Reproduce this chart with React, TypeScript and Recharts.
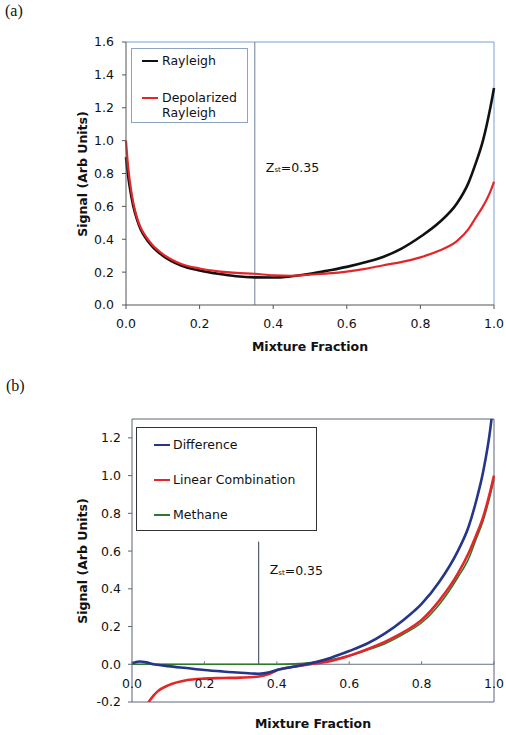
import { LineChart, Line, XAxis, YAxis, ReferenceLine } from "recharts"

// panel (a)
const fractionA = [0, 0.005, 0.01, 0.02, 0.03, 0.04, 0.05, 0.07, 0.1, 0.15, 0.2, 0.25, 0.3, 0.35, 0.4, 0.45, 0.5, 0.55, 0.6, 0.65, 0.7, 0.75, 0.8, 0.85, 0.9, 0.93, 0.95, 0.97, 0.99, 1.0]
const rayleigh = [0.9, 0.8, 0.72, 0.6, 0.52, 0.46, 0.42, 0.36, 0.3, 0.24, 0.21, 0.19, 0.175, 0.168, 0.167, 0.175, 0.19, 0.21, 0.232, 0.26, 0.294, 0.345, 0.415, 0.5, 0.62, 0.74, 0.86, 1.0, 1.2, 1.32]
const depolarized = [1.0, 0.86, 0.76, 0.62, 0.53, 0.47, 0.43, 0.37, 0.31, 0.25, 0.222, 0.205, 0.195, 0.19, 0.18, 0.178, 0.185, 0.192, 0.203, 0.22, 0.242, 0.262, 0.29, 0.33, 0.39, 0.46, 0.53, 0.6, 0.69, 0.75]

// panel (b)
const fractionB = [0, 0.02, 0.04, 0.05, 0.06, 0.07, 0.1, 0.15, 0.2, 0.25, 0.3, 0.35, 0.38, 0.4, 0.45, 0.5, 0.55, 0.6, 0.65, 0.7, 0.75, 0.8, 0.85, 0.9, 0.93, 0.95, 0.97, 0.99, 1.0]
const difference = [0.005, 0.015, 0.01, 0.005, 0.0, -0.003, -0.01, -0.02, -0.03, -0.038, -0.045, -0.05, -0.042, -0.03, -0.012, 0.008, 0.035, 0.07, 0.11, 0.165, 0.235, 0.32, 0.44, 0.6, 0.73, 0.86, 1.02, 1.25, 1.42]
const linearCombination = [-0.5, -0.32, -0.22, -0.19, -0.165, -0.145, -0.112, -0.085, -0.076, -0.073, -0.071, -0.065, -0.05, -0.032, -0.012, 0.003, 0.018, 0.045, 0.08, 0.12, 0.17, 0.235, 0.34, 0.48, 0.59, 0.68, 0.78, 0.92, 1.0]
const methane = [0, 0, 0, 0, 0, 0, 0, 0, 0, 0, 0, 0, 0, 0, 0.002, 0.01, 0.025, 0.045, 0.075, 0.11, 0.16, 0.22, 0.32, 0.46, 0.56, 0.66, 0.76, 0.9, 0.98]

const xTicks = [0, 0.2, 0.4, 0.6, 0.8, 1.0]
const yTicksA = [0, 0.2, 0.4, 0.6, 0.8, 1.0, 1.2, 1.4, 1.6]
const yTicksB = [-0.2, 0, 0.2, 0.4, 0.6, 0.8, 1.0, 1.2]

const seriesA = [
  { key: "rayleigh", name: "Rayleigh", color: "#111111", width: 2.6 },
  { key: "depolarized", name: "Depolarized\nRayleigh", color: "#e2262a", width: 2.2 },
]
const seriesB = [
  { key: "difference", name: "Difference", color: "#25368a", width: 2.6 },
  { key: "linear", name: "Linear Combination", color: "#e2262a", width: 2.6 },
  { key: "methane", name: "Methane", color: "#2f7a2a", width: 1.6 },
]

const dataA = fractionA.map((z, i) => ({ z, rayleigh: rayleigh[i], depolarized: depolarized[i] }))
const dataB = fractionB.map((z, i) => ({
  z,
  difference: difference[i],
  linear: linearCombination[i],
  methane: methane[i],
}))

const FONT = "'DejaVu Sans', Verdana, sans-serif"
const tickStyle = { fontSize: 12.5, fill: "#111", fontFamily: FONT }

// layout of panel (b), used to put the x tick labels on the zero line
const B_H = 375
const B_TOP = 59
const B_XAXIS_H = 33
const B_YMIN = -0.2
const B_YMAX = 1.3
const B_PLOT_H = B_H - B_TOP - B_XAXIS_H
const B_ZERO = B_TOP + (B_PLOT_H * B_YMAX) / (B_YMAX - B_YMIN)

const fmt = (v: number) => v.toFixed(1)

function ZeroLineTick(props: any) {
  const { x, payload } = props
  return (
    <g>
      <line x1={x} x2={x} y1={B_ZERO} y2={B_ZERO - 3} stroke="#6a7384" />
      <text x={x} y={B_ZERO + 19} textAnchor="middle" dominantBaseline="central" {...tickStyle}>
        {fmt(payload.value)}
      </text>
    </g>
  )
}

const zstLabel = (dy: number) => (props: any) => {
  const vb = props.viewBox || {}
  return (
    <text x={(vb.x ?? 0) + 11} y={(vb.y ?? 0) + dy} dominantBaseline="central" fontFamily={FONT} fontSize={12.5} fill="#111">
      Z<tspan fontSize={7} dy={3}>st</tspan>
      <tspan dy={-3}>=0.35</tspan>
    </text>
  )
}

const titleStyle: React.CSSProperties = {
  position: "absolute",
  fontFamily: FONT,
  fontWeight: "bold",
  fontSize: 12.5,
  color: "#111",
  whiteSpace: "nowrap",
  transform: "translate(-50%, -50%)",
}

const panelLabel: React.CSSProperties = {
  position: "absolute",
  fontFamily: "'Liberation Serif', 'Times New Roman', serif",
  fontSize: 16,
  color: "#111",
}

function LegendBox(props: { left: number; top: number; width: number; height: number; border: string; items: any[]; rows: number[]; sampleX: number; textX: number }) {
  const { left, top, width, height, border, items, rows, sampleX, textX } = props
  return (
    <div
      style={{
        position: "absolute",
        left,
        top,
        width,
        height,
        border,
        boxSizing: "border-box",
        background: "#fff",
        fontFamily: FONT,
        fontSize: 12.5,
        color: "#111",
      }}
    >
      {items.map((s, i) => (
        <div key={s.key}>
          <div
            style={{
              position: "absolute",
              left: sampleX,
              top: rows[i] - s.width / 2,
              width: 16,
              height: s.width,
              background: s.color,
            }}
          />
          <div style={{ position: "absolute", left: textX, top: rows[i] - 8, lineHeight: "15px", whiteSpace: "pre" }}>
            {s.name}
          </div>
        </div>
      ))}
    </div>
  )
}

export default function App() {
  return (
    <div style={{ position: "absolute", left: 0, top: 0, width: 506, height: 735, background: "#fff" }}>
      <div style={{ ...panelLabel, left: 5, top: 2 }}>(a)</div>
      <div style={{ ...panelLabel, left: 6, top: 377 }}>(b)</div>

      <div style={{ position: "absolute", left: 0, top: 0 }}>
        <LineChart width={506} height={360} data={dataA} margin={{ top: 42, right: 12, left: 0, bottom: 0 }}>
          <XAxis
            dataKey="z"
            type="number"
            domain={[0, 1]}
            ticks={xTicks}
            tickFormatter={fmt}
            height={55}
            tickSize={4}
            tickMargin={10}
            stroke="#555"
            tick={tickStyle}
            interval={0}
          />
          <YAxis
            type="number"
            domain={[0, 1.6]}
            ticks={yTicksA}
            tickFormatter={fmt}
            width={126}
            tickSize={4}
            tickMargin={8}
            stroke="#555"
            tick={tickStyle}
            interval={0}
          />
          <ReferenceLine y={1.6} stroke="#7d9fd2" strokeWidth={1} />
          <ReferenceLine x={1} stroke="#7d9fd2" strokeWidth={1} />
          <ReferenceLine x={0.35} stroke="#6d7f99" strokeWidth={1} label={zstLabel(125)} />
          {seriesA.map((s) => (
            <Line
              key={s.key}
              dataKey={s.key}
              type="monotone"
              stroke={s.color}
              strokeWidth={s.width}
              dot={false}
              isAnimationActive={false}
            />
          ))}
        </LineChart>
      </div>

      <div style={{ position: "absolute", left: 0, top: 360 }}>
        <LineChart width={506} height={B_H} data={dataB} margin={{ top: B_TOP, right: 12, left: 0, bottom: 0 }}>
          <XAxis
            dataKey="z"
            type="number"
            domain={[0, 1]}
            ticks={xTicks}
            height={B_XAXIS_H}
            tickLine={false}
            stroke="#5b6478"
            tick={<ZeroLineTick />}
            interval={0}
          />
          <YAxis
            type="number"
            domain={[B_YMIN, B_YMAX]}
            ticks={yTicksB}
            tickFormatter={fmt}
            allowDataOverflow
            width={132}
            tickSize={4}
            tickMargin={7}
            stroke="#5b6478"
            tick={tickStyle}
            interval={0}
          />
          <ReferenceLine y={B_YMAX} stroke="#5b6478" strokeWidth={1} />
          <ReferenceLine x={1} stroke="#5b6478" strokeWidth={1} />
          <ReferenceLine y={0} stroke="#6a7384" strokeWidth={1} />
          <ReferenceLine
            segment={[{ x: 0.35, y: 0 }, { x: 0.35, y: 0.65 }]}
            stroke="#2b3a55"
            strokeWidth={1}
            label={zstLabel(28)}
          />
          {[...seriesB].reverse().map((s) => (
            <Line
              key={s.key}
              dataKey={s.key}
              type="monotone"
              stroke={s.color}
              strokeWidth={s.width}
              dot={false}
              isAnimationActive={false}
            />
          ))}
        </LineChart>
      </div>

      <LegendBox
        left={131}
        top={48}
        width={117}
        height={75}
        border="1px solid #8da3c4"
        items={seriesA}
        rows={[12, 49]}
        sampleX={10}
        textX={30}
      />
      <LegendBox
        left={136}
        top={427}
        width={181}
        height={104}
        border="1.5px solid #333"
        items={seriesB}
        rows={[17, 52, 87]}
        sampleX={17}
        textX={36}
      />

      <div style={{ ...titleStyle, left: 310, top: 346 }}>Mixture Fraction</div>
      <div style={{ ...titleStyle, left: 313, top: 723 }}>Mixture Fraction</div>
      <div style={{ ...titleStyle, left: 82, top: 174, transform: "translate(-50%, -50%) rotate(-90deg)" }}>
        Signal (Arb Units)
      </div>
      <div style={{ ...titleStyle, left: 82, top: 561, transform: "translate(-50%, -50%) rotate(-90deg)" }}>
        Signal (Arb Units)
      </div>
    </div>
  )
}
